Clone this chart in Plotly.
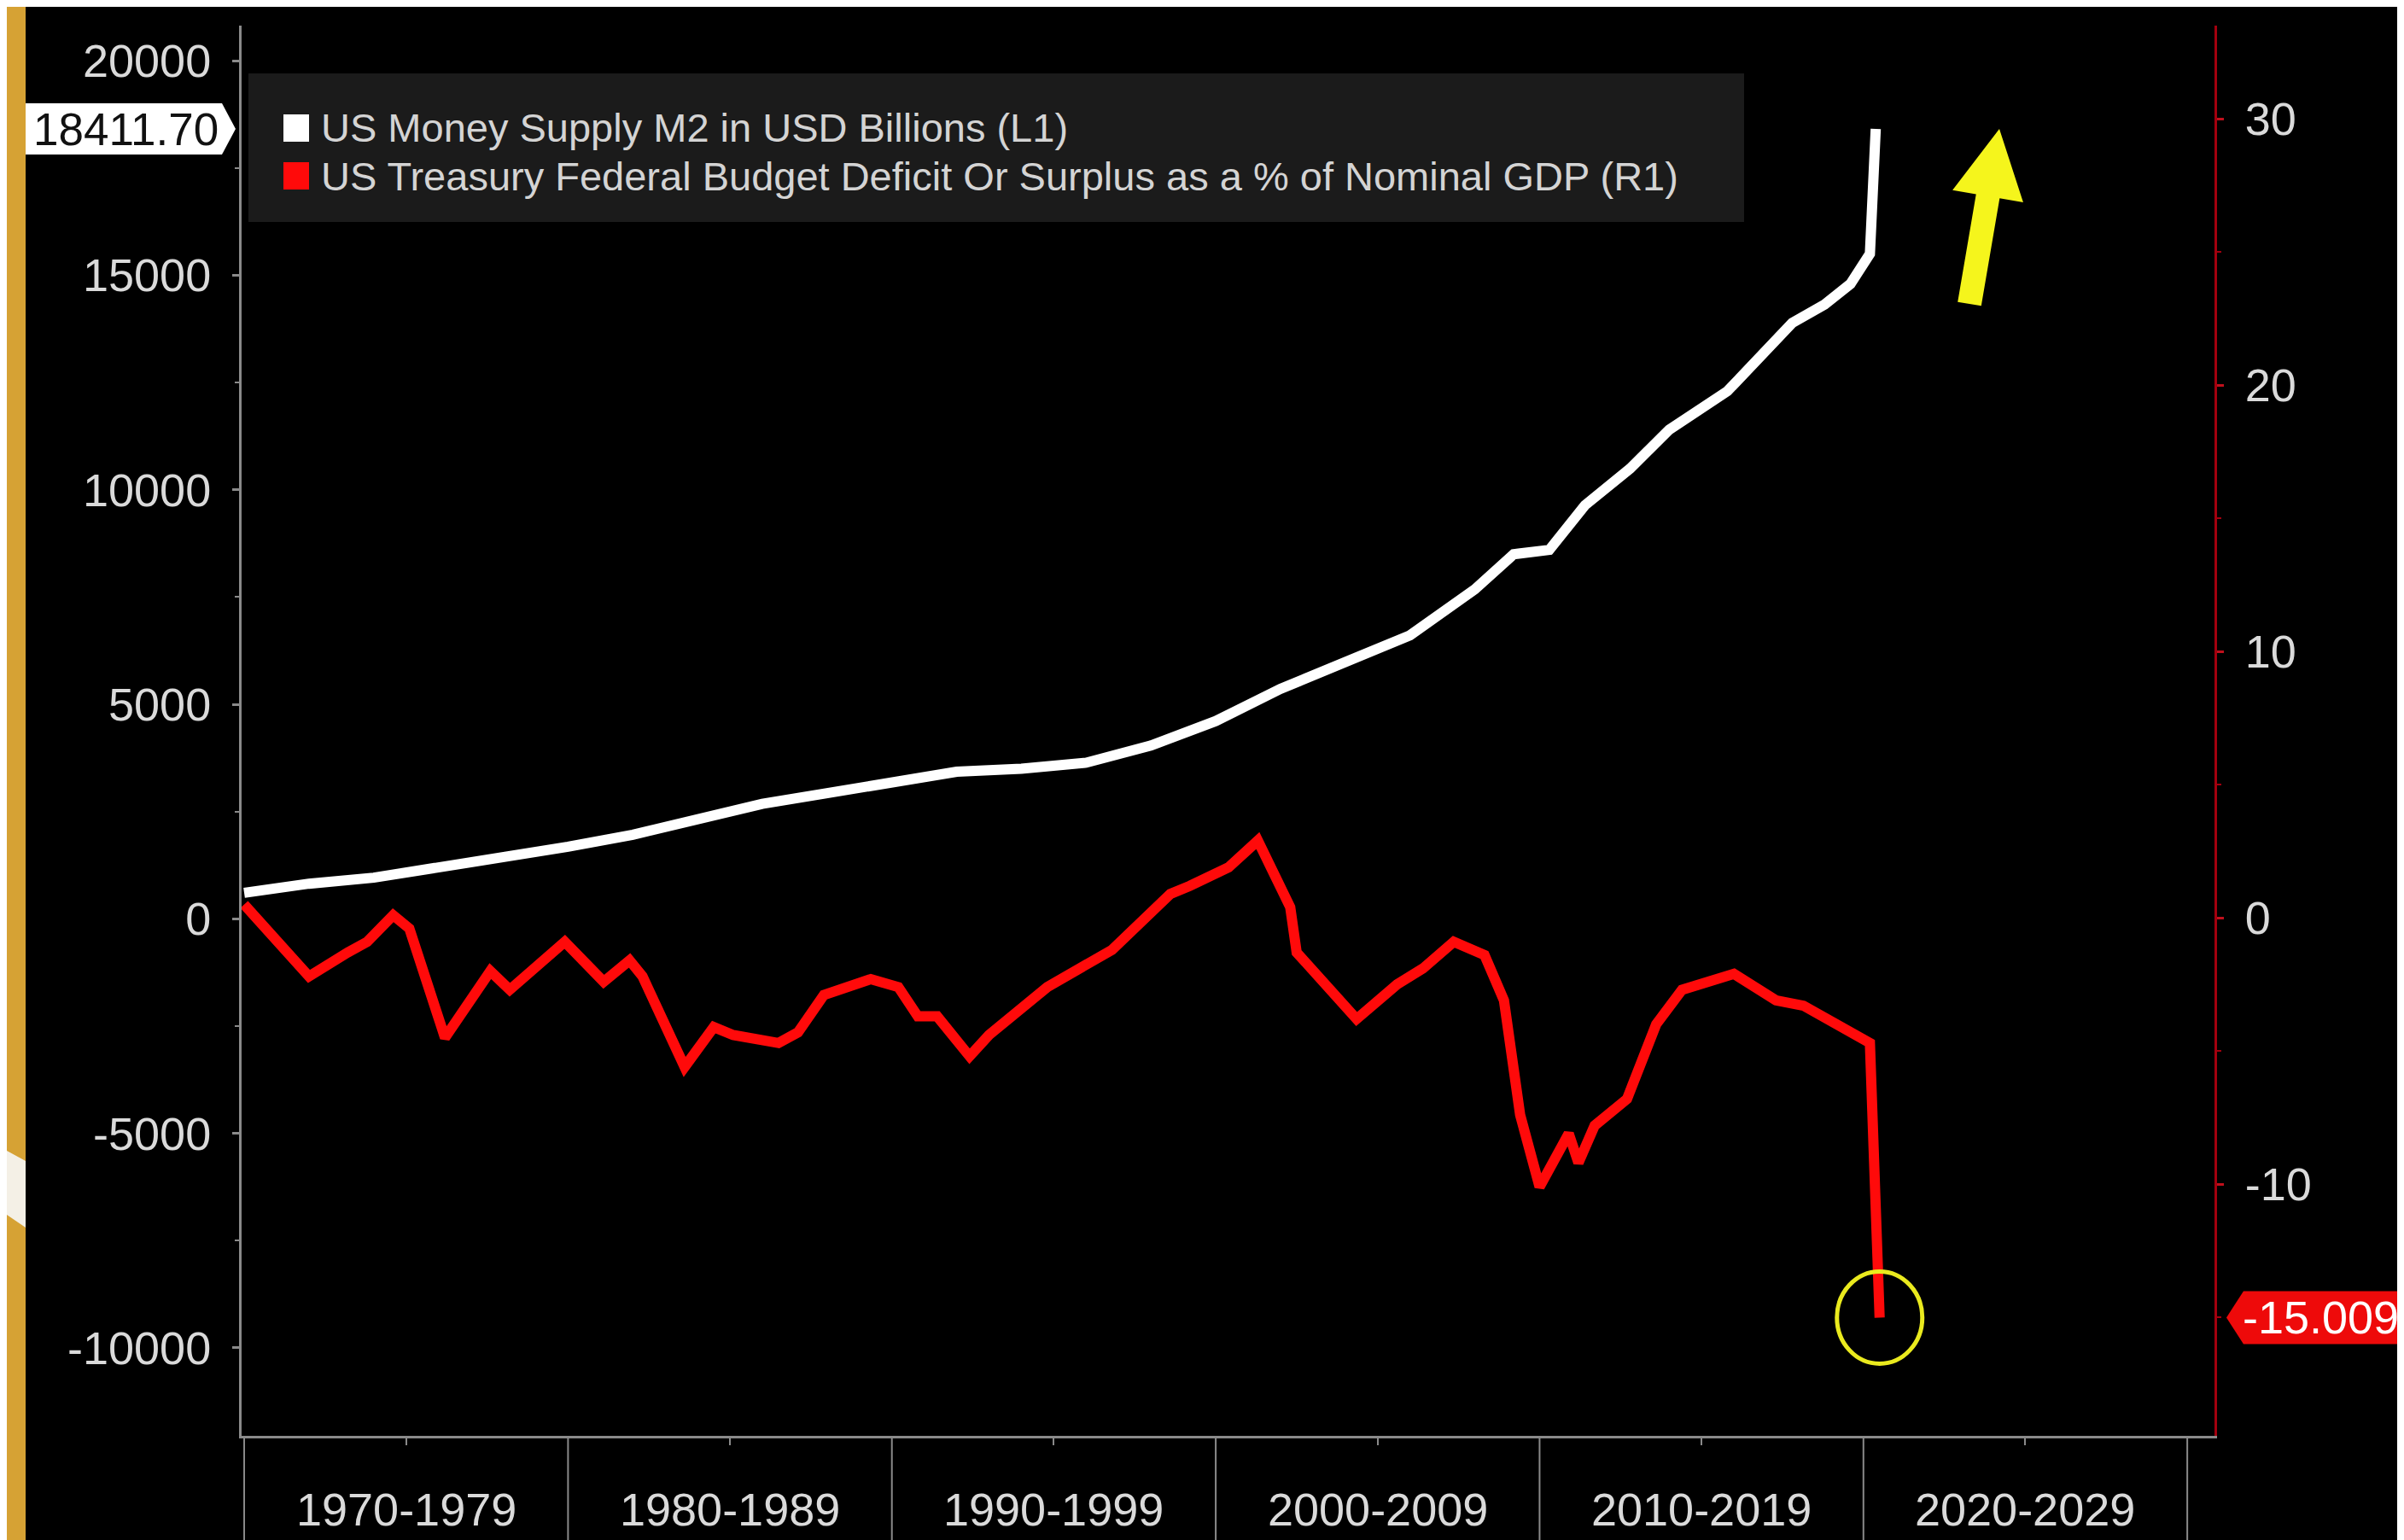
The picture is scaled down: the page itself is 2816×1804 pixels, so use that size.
import plotly.graph_objects as go

# US Money Supply M2, USD billions (left axis)
m2_years = [1970, 1972, 1974, 1976, 1978, 1980, 1982, 1984, 1986, 1988, 1990, 1992,
            1994, 1996, 1998, 2000, 2002, 2004, 2006, 2008, 2009.2, 2010.3, 2011.4,
            2012.8, 2014, 2015.8, 2017.8, 2018.8, 2019.6, 2020.2, 2020.3, 2020.38]
m2_values = [607, 820, 960, 1180, 1430, 1680, 1960, 2320, 2680, 2930, 3210, 3430,
             3500, 3640, 4040, 4610, 5360, 5960, 6610, 7680, 8500, 8600, 9640,
             10500, 11400, 12300, 13890, 14320, 14800, 15500, 17680, 18411.70]

# US Federal budget deficit/surplus, % of nominal GDP (right axis)
deficit_years = [1970.0, 1972.0, 1973.2, 1973.8, 1974.6, 1975.1, 1976.2, 1977.6, 1978.2,
                 1979.9, 1981.1, 1981.9, 1982.3, 1983.6, 1984.5, 1985.1, 1986.5, 1987.1,
                 1987.9, 1989.35, 1990.2, 1990.8, 1991.4, 1992.4, 1993.0, 1994.8, 1996.8,
                 1998.6, 1999.2, 2000.4, 2001.3, 2002.3, 2002.5, 2003.3, 2004.35, 2005.6,
                 2006.4, 2007.35, 2008.3, 2008.9, 2009.4, 2010.0, 2010.9, 2011.2, 2011.7,
                 2012.7, 2013.6, 2014.4, 2016.0, 2017.3, 2018.15, 2020.2, 2020.5]
deficit_values = [0.5, -2.2, -1.3, -0.9, 0.1, -0.4, -4.5, -2.0, -2.7,
                  -0.9, -2.4, -1.6, -2.2, -5.6, -4.1, -4.4, -4.7, -4.3,
                  -2.9, -2.3, -2.6, -3.7, -3.7, -5.2, -4.4, -2.6, -1.2,
                  0.9, 1.2, 1.9, 2.9, 0.4, -1.3, -2.4, -3.8, -2.5,
                  -1.9, -0.9, -1.4, -3.1, -7.4, -10.1, -8.1, -9.2, -7.8,
                  -6.8, -4.0, -2.7, -2.1, -3.1, -3.3, -4.7, -15.009]

decade_starts = [1970, 1980, 1990, 2000, 2010, 2020, 2030]
decade_labels = ['1970-1979', '1980-1989', '1990-1999', '2000-2009', '2010-2019', '2020-2029']
left_tickvals = [-10000, -5000, 0, 5000, 10000, 15000, 20000]
left_ticktext = ['-10000', '-5000', '0', '5000', '10000', '15000', '20000']
right_tickvals = [-10, 0, 10, 20, 30]
right_ticktext = ['-10', '0', '10', '20', '30']

legend_names = ['US Money Supply M2 in USD Billions (L1)',
                'US Treasury Federal Budget Deficit Or Surplus as a % of Nominal GDP (R1)']

W, H = 2816, 1804
L, R, T, B = 275, 230, 22, 130
PW, PH = W - L - R, H - T - B


def px(x):
    return (x - L) / PW


def py(y):
    return (H - B - y) / PH


FONT = 'Liberation Sans, Arial, sans-serif'
TXT = '#dadada'
AX = '#8a8a8a'

fig = go.Figure()

fig.add_trace(go.Scatter(x=deficit_years, y=deficit_values, yaxis='y2', mode='lines',
                         name=legend_names[1], line=dict(color='#ff0a0a', width=12)))
fig.add_trace(go.Scatter(x=m2_years, y=m2_values, mode='lines',
                         name=legend_names[0], line=dict(color='#ffffff', width=12)))

shapes = []
# gold frame strip on the left edge + white stripe
shapes.append(dict(type='rect', xref='paper', yref='paper', x0=px(0), x1=px(22),
                   y0=py(H), y1=py(0), fillcolor='#d6a234', line=dict(width=0), layer='above'))
shapes.append(dict(type='path', xref='paper', yref='paper',
                   path='M %f,%f L %f,%f L %f,%f L %f,%f Z' % (px(0), py(1340), px(22), py(1352),
                                                               px(22), py(1430), px(0), py(1415)),
                   fillcolor='#f4f0e6', line=dict(width=0), layer='above'))

# legend box
shapes.append(dict(type='rect', xref='paper', yref='paper', x0=px(283), x1=px(2035),
                   y0=py(252), y1=py(78), fillcolor='#1b1b1b', line=dict(width=0), layer='below'))
for i, (col, yc) in enumerate([('#ffffff', 142), ('#ff0a0a', 198)]):
    shapes.append(dict(type='rect', xref='paper', yref='paper', x0=px(324), x1=px(354),
                       y0=py(yc + 16), y1=py(yc - 16), fillcolor=col, line=dict(width=0)))

# decade dividers below the x axis
for d in decade_starts:
    shapes.append(dict(type='line', xref='x', yref='paper', x0=d, x1=d, y0=0, y1=py(H),
                       line=dict(color=AX, width=2)))

# last-value label on the left axis (white)
m2_last = m2_values[-1]
hh = 30 / (PH / (20820 + 12050))
shapes.append(dict(type='path', xref='paper', yref='y',
                   path='M %f,%f L %f,%f L %f,%f L %f,%f L %f,%f Z' % (
                       px(22), m2_last + hh, px(252), m2_last + hh, px(268), m2_last,
                       px(252), m2_last - hh, px(22), m2_last - hh),
                   fillcolor='#ffffff', line=dict(width=0), layer='above'))

# last-value label on the right axis (red)
def_last = deficit_values[-1]
hh2 = 31 / (PH / (33.5 + 19.45))
shapes.append(dict(type='path', xref='paper', yref='y2',
                   path='M %f,%f L %f,%f L %f,%f L %f,%f L %f,%f Z' % (
                       px(2600), def_last, px(2620), def_last + hh2, px(W + 5), def_last + hh2,
                       px(W + 5), def_last - hh2, px(2620), def_last - hh2),
                   fillcolor='#ee0a0a', line=dict(width=0), layer='above'))

# yellow circle around the latest deficit reading
shapes.append(dict(type='circle', xref='x', yref='y2', xsizemode='pixel', ysizemode='pixel',
                   xanchor=deficit_years[-1], yanchor=def_last, x0=-50, x1=50, y0=-54, y1=54,
                   line=dict(color='#eaea1e', width=5)))

# yellow arrow
tail, tip = (2299, 348), (2334, 143)
dx, dy = tip[0] - tail[0], tip[1] - tail[1]
ln = (dx * dx + dy * dy) ** 0.5
ux, uy = dx / ln, dy / ln
nx, ny = -uy, ux
sw, hw, hl = 14, 42, 80
bx, by = tip[0] - hl * ux, tip[1] - hl * uy
pts = [(tail[0] - sw * nx, tail[1] - sw * ny), (bx - sw * nx, by - sw * ny),
       (bx - hw * nx, by - hw * ny), tip, (bx + hw * nx, by + hw * ny),
       (bx + sw * nx, by + sw * ny), (tail[0] + sw * nx, tail[1] + sw * ny)]
path = 'M ' + ' L '.join('%f,%f' % (px(a), py(b)) for a, b in pts) + ' Z'
shapes.append(dict(type='path', xref='paper', yref='paper', path=path,
                   fillcolor='#f5f51c', line=dict(width=0)))

annotations = []
for i, (name, yc) in enumerate(zip(legend_names, [142, 198])):
    annotations.append(dict(xref='paper', yref='paper', x=px(366), y=py(yc), text=name,
                            xanchor='left', yanchor='middle', showarrow=False,
                            font=dict(family=FONT, size=47, color='#d4d4d4')))
for d, lab in zip(decade_starts[:-1], decade_labels):
    annotations.append(dict(xref='x', yref='paper', x=d + 5, y=py(1760), text=lab,
                            xanchor='center', yanchor='middle', showarrow=False,
                            font=dict(family=FONT, size=54, color=TXT)))
annotations.append(dict(xref='paper', yref='y', x=px(250), y=m2_last, text='%.2f' % m2_last,
                        xanchor='right', yanchor='middle', showarrow=False,
                        font=dict(family=FONT, size=53, color='#111111')))
annotations.append(dict(xref='paper', yref='y2', x=px(2617), y=def_last, text='%.3f' % def_last,
                        xanchor='left', yanchor='middle', showarrow=False,
                        font=dict(family=FONT, size=54, color='#ffffff')))

fig.update_layout(
    width=W, height=H, autosize=False,
    margin=dict(l=L, r=R, t=T, b=B, autoexpand=False),
    paper_bgcolor='#000000', plot_bgcolor='#000000',
    showlegend=False,
    font=dict(family=FONT, color=TXT),
    xaxis=dict(range=[1969.92, 2030.84], showgrid=False, zeroline=False,
               showline=True, linecolor=AX, linewidth=3,
               tickvals=decade_starts, ticks='', showticklabels=False,
               minor=dict(tickvals=[d + 5 for d in decade_starts[:-1]], ticks='outside',
                          ticklen=8, tickwidth=2, tickcolor=AX)),
    yaxis=dict(range=[-12050, 20820], showgrid=False, zeroline=False,
               showline=True, linecolor=AX, linewidth=3,
               tickvals=left_tickvals, ticktext=left_ticktext,
               ticks='outside', ticklen=8, tickwidth=3, tickcolor=AX,
               ticklabelstandoff=14,
               minor=dict(dtick=2500, ticks='outside', ticklen=5, tickwidth=2, tickcolor=AX),
               tickfont=dict(family=FONT, size=54, color=TXT)),
    yaxis2=dict(range=[-19.45, 33.5], overlaying='y', side='right', anchor='x',
                showgrid=False, zeroline=False,
                showline=True, linecolor='#a3000e', linewidth=3,
                tickvals=right_tickvals, ticktext=right_ticktext,
                ticks='outside', ticklen=8, tickwidth=3, tickcolor='#c0101c',
                ticklabelstandoff=14,
                minor=dict(dtick=5, ticks='outside', ticklen=5, tickwidth=2, tickcolor='#a3000e'),
                tickfont=dict(family=FONT, size=54, color=TXT)),
    shapes=shapes,
    annotations=annotations,
)

fig.write_html('out.html')
